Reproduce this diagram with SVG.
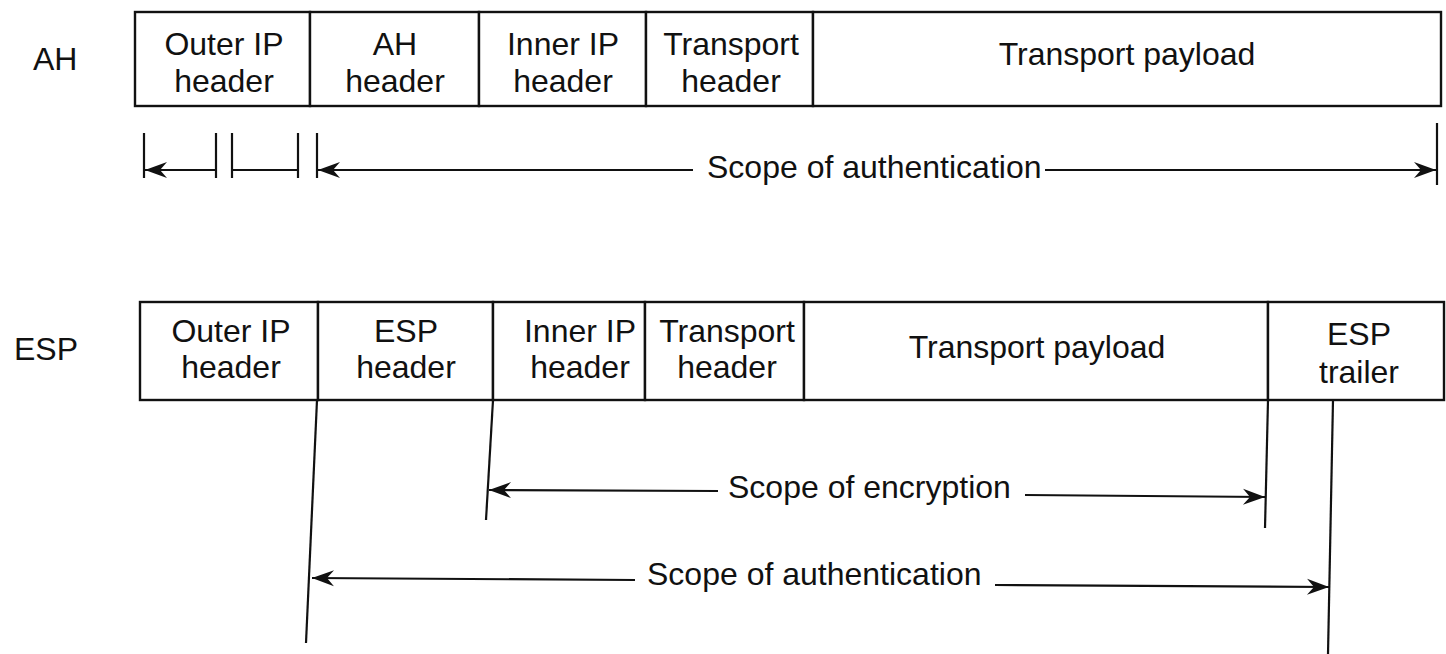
<svg xmlns="http://www.w3.org/2000/svg" width="1446" height="654" viewBox="0 0 1446 654">
<style>
.box{fill:#fff;stroke:#111;stroke-width:2.4}
.t{font-family:"Liberation Sans",Arial,sans-serif;font-size:32px;fill:#111;text-anchor:middle}
.l{font-family:"Liberation Sans",Arial,sans-serif;font-size:32px;fill:#111;text-anchor:start}
.ln{stroke:#111;stroke-width:2.2;fill:none}
</style>
<defs>
<marker id="ah" markerUnits="userSpaceOnUse" markerWidth="26" markerHeight="20" viewBox="-24 -10 26 20" refX="0" refY="0" orient="auto-start-reverse">
<path d="M0,0 L-22,-8 L-15,0 L-22,8 Z" fill="#111"/>
</marker>
</defs>
<rect width="1446" height="654" fill="#fff"/>
<text class="l" x="33" y="70">AH</text>
<text class="l" x="14" y="360">ESP</text>
<g id="ah-outer-ip"><rect class="box" x="135" y="12" width="175" height="94"/><text class="t" x="224" y="55">Outer IP</text><text class="t" x="224" y="92">header</text></g>
<g id="ah-ah-header"><rect class="box" x="310" y="12" width="169" height="94"/><text class="t" x="395" y="55">AH</text><text class="t" x="395" y="92">header</text></g>
<g id="ah-inner-ip"><rect class="box" x="479" y="12" width="167" height="94"/><text class="t" x="563" y="55">Inner IP</text><text class="t" x="563" y="92">header</text></g>
<g id="ah-transport-header"><rect class="box" x="646" y="12" width="167" height="94"/><text class="t" x="731" y="55">Transport</text><text class="t" x="731" y="92">header</text></g>
<g id="ah-payload"><rect class="box" x="813" y="12" width="628" height="94"/><text class="t" x="1127" y="65">Transport payload</text></g>
<g id="esp-outer-ip"><rect class="box" x="140" y="302" width="178" height="98"/><text class="t" x="231" y="342">Outer IP</text><text class="t" x="231" y="378">header</text></g>
<g id="esp-esp-header"><rect class="box" x="318" y="302" width="175" height="98"/><text class="t" x="406" y="342">ESP</text><text class="t" x="406" y="378">header</text></g>
<g id="esp-inner-ip"><rect class="box" x="493" y="302" width="152" height="98"/><text class="t" x="580" y="342">Inner IP</text><text class="t" x="580" y="378">header</text></g>
<g id="esp-transport-header"><rect class="box" x="645" y="302" width="159" height="98"/><text class="t" x="727" y="342">Transport</text><text class="t" x="727" y="378">header</text></g>
<g id="esp-payload"><rect class="box" x="804" y="302" width="464" height="98"/><text class="t" x="1037" y="358">Transport payload</text></g>
<g id="esp-trailer"><rect class="box" x="1268" y="302" width="176" height="98"/><text class="t" x="1359" y="345">ESP</text><text class="t" x="1359" y="383">trailer</text></g>
<g id="connectors">
<line class="ln" x1="144" y1="133" x2="144" y2="178"/>
<line class="ln" x1="216" y1="133" x2="216" y2="178"/>
<line class="ln" x1="232" y1="133" x2="232" y2="178"/>
<line class="ln" x1="298" y1="133" x2="298" y2="178"/>
<line class="ln" x1="317" y1="133" x2="317" y2="178"/>
<line class="ln" x1="1437" y1="123" x2="1437" y2="185"/>
<line class="ln" x1="216" y1="170" x2="145" y2="170" marker-end="url(#ah)"/>
<line class="ln" x1="232" y1="170" x2="298" y2="170"/>
<line class="ln" x1="693" y1="170" x2="318" y2="170" marker-end="url(#ah)"/>
<line class="ln" x1="1045" y1="170" x2="1436" y2="170" marker-end="url(#ah)"/>
<text class="l" x="707" y="178">Scope of authentication</text>
<line class="ln" x1="317" y1="400" x2="306" y2="643"/>
<line class="ln" x1="493" y1="400" x2="486" y2="520"/>
<line class="ln" x1="1268" y1="400" x2="1265" y2="528"/>
<line class="ln" x1="1333" y1="400" x2="1328" y2="654"/>
<line class="ln" x1="718" y1="491" x2="489" y2="490" marker-end="url(#ah)"/>
<line class="ln" x1="1025" y1="495" x2="1265" y2="497" marker-end="url(#ah)"/>
<text class="l" x="728" y="498">Scope of encryption</text>
<line class="ln" x1="635" y1="580" x2="312" y2="578" marker-end="url(#ah)"/>
<line class="ln" x1="995" y1="585" x2="1329" y2="587" marker-end="url(#ah)"/>
<text class="l" x="647" y="585">Scope of authentication</text>
</g>
</svg>
